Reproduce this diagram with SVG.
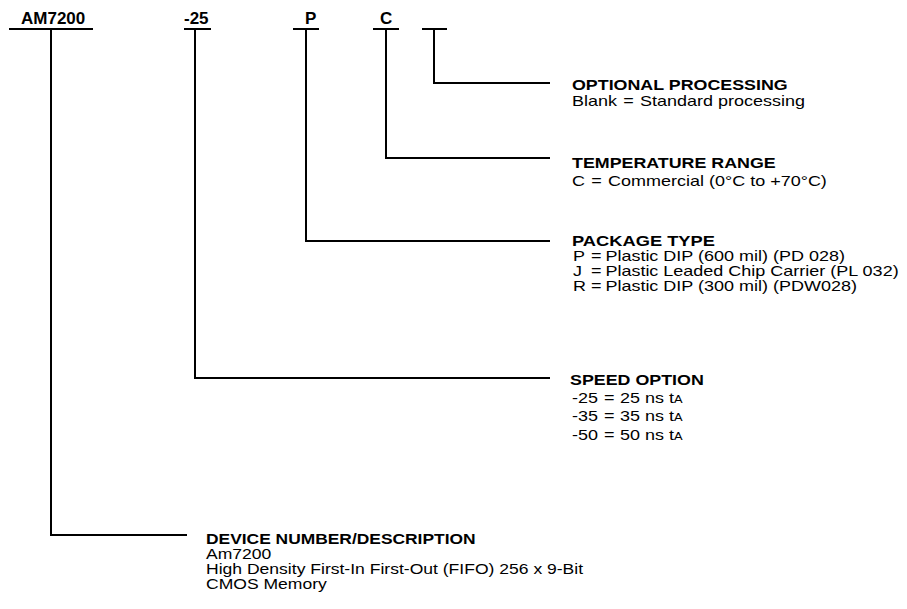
<svg xmlns="http://www.w3.org/2000/svg" width="907" height="609" viewBox="0 0 907 609">
<style>
text{font-family:"Liberation Sans",Arial,sans-serif;fill:#000}
.top{font-size:17px;font-weight:bold}
.h{font-size:15px;font-weight:bold}
.b{font-size:14px}
.sub{font-size:10px}
.ln{stroke:#000;stroke-width:2;fill:none}
</style>
<rect width="907" height="609" fill="#fff"/>
<g id="codes">
<g id="code-am7200"><text class="top" x="21" y="24">AM7200</text><line class="ln" x1="9" y1="29" x2="93" y2="29"/></g>
<g id="code-speed"><text class="top" x="184" y="24">-25</text><line class="ln" x1="184" y1="29" x2="211" y2="29"/></g>
<g id="code-package"><text class="top" x="305" y="24">P</text><line class="ln" x1="293" y1="29" x2="319" y2="29"/></g>
<g id="code-temp"><text class="top" x="380" y="24">C</text><line class="ln" x1="373" y1="29" x2="399" y2="29"/></g>
<g id="code-opt"><line class="ln" x1="422" y1="29" x2="447" y2="29"/></g>
</g>
<g id="connectors">
<polyline class="ln" points="434,29 434,83 550,83"/>
<polyline class="ln" points="386,29 386,158 550,158"/>
<polyline class="ln" points="306,29 306,241 550,241"/>
<polyline class="ln" points="195,29 195,378 550,378"/>
<polyline class="ln" points="51,29 51,535 187,535"/>
</g>
<g id="optional">
<text class="h" transform="translate(572,90) scale(1.19,1)">OPTIONAL PROCESSING</text>
<text class="b" transform="translate(572,106) scale(1.286,1)">Blank <tspan dx="1">=</tspan> <tspan dx="1">Standard processing</tspan></text>
</g>
<g id="temperature">
<text class="h" transform="translate(572,168) scale(1.19,1)">TEMPERATURE RANGE</text>
<text class="b" transform="translate(572,186) scale(1.286,1)">C <tspan dx="1">=</tspan> <tspan dx="1">Commercial (0°C to +70°C)</tspan></text>
</g>
<g id="package">
<text class="h" transform="translate(572,246) scale(1.22,1)">PACKAGE TYPE</text>
<text class="b" transform="translate(573,261) scale(1.286,1)">P<tspan x="14">=</tspan><tspan x="25.2">Plastic DIP (600 mil) (PD 028)</tspan></text>
<text class="b" transform="translate(573,276) scale(1.286,1)">J<tspan x="14">=</tspan><tspan x="25.2">Plastic Leaded Chip Carrier (PL 032)</tspan></text>
<text class="b" transform="translate(573,291) scale(1.286,1)">R<tspan x="14">=</tspan><tspan x="25.2">Plastic DIP (300 mil) (PDW028)</tspan></text>
</g>
<g id="speed">
<text class="h" transform="translate(570,385) scale(1.19,1)">SPEED OPTION</text>
<text class="b" transform="translate(572,403) scale(1.286,1)">-25<tspan x="24.9">=</tspan><tspan x="37.3">25 ns t</tspan><tspan class="sub">A</tspan></text>
<text class="b" transform="translate(572,421) scale(1.286,1)">-35<tspan x="24.9">=</tspan><tspan x="37.3">35 ns t</tspan><tspan class="sub">A</tspan></text>
<text class="b" transform="translate(572,440) scale(1.286,1)">-50<tspan x="24.9">=</tspan><tspan x="37.3">50 ns t</tspan><tspan class="sub">A</tspan></text>
</g>
<g id="device">
<text class="h" transform="translate(206,544) scale(1.16,1)">DEVICE NUMBER/DESCRIPTION</text>
<text class="b" transform="translate(206,559) scale(1.254,1)">Am7200</text>
<text class="b" transform="translate(206,574) scale(1.254,1)">High Density First-In First-Out (FIFO) 256 x 9-Bit</text>
<text class="b" transform="translate(206,589) scale(1.254,1)">CMOS Memory</text>
</g>
</svg>
